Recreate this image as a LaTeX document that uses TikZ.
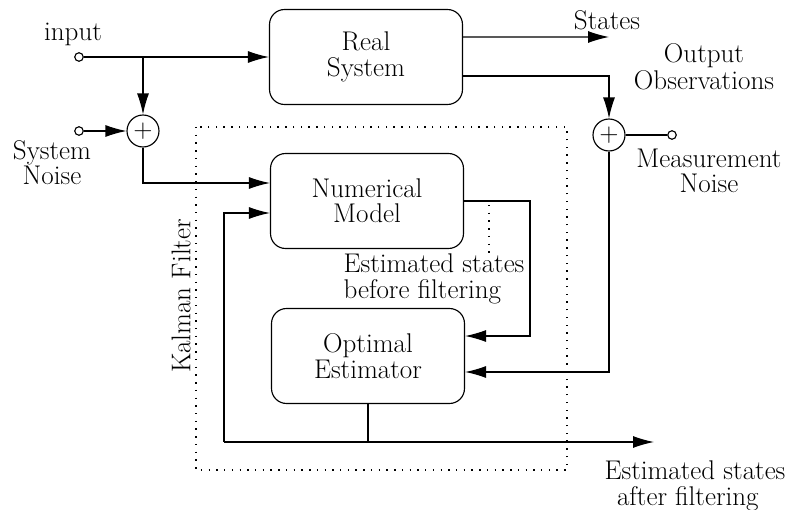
\documentclass[tikz,border=0pt]{standalone}
\usetikzlibrary{arrows.meta,positioning}

\begin{document}
\begin{tikzpicture}[x=0.02cm,y=-0.02cm,->,>={Latex[length=4.2mm,width=2.4mm]},line width=0.65pt,
  font=\fontsize{15.4}{14.4}\selectfont,
  block/.style={draw,rounded corners=3mm,minimum width=3.86cm,minimum height=1.9cm,align=center},
  sum node/.style={circle,draw,inner sep=0pt,minimum size=0.64cm},
  port node/.style={circle,draw,inner sep=0pt,minimum size=0.17cm},
  text node/.style={align=center}]

  \useasboundingbox (0,0) rectangle (795,510);

  % blocks
  \node[block] (real) at (366,57) {Real\\System};
  \node[block] (model) at (367,201) {Numerical\\Model};
  \node[block] (est) at (368,356) {Optimal\\Estimator};

  % summing points and ports
  \node[sum node] (sumA) at (143,131) {$+$};
  \node[sum node] (sumB) at (609,135) {$+$};
  \node[port node] (in) at (79,57) {};
  \node[port node] (sysn) at (79,131) {};
  \node[port node] (measn) at (672,135) {};

  \coordinate (split) at (143,57);
  \coordinate (statesEnd) at (609,37);
  \coordinate (fbL) at (224,442);
  \coordinate (outEnd) at (654,442);

  % labels
  \node[text node] (inLbl) at (73,34) {input};
  \node[text node] (sysLbl) at (52,163) {System\\Noise};
  \node[text node] (stLbl) at (607,20) {States};
  \node[text node] (obsLbl) at (704,67) {Output\\[1pt]Observations};
  \node[text node] (measLbl) at (709,171) {Measurement\\Noise};
  \node[align=left] (befLbl) at (434,279) {Estimated states\\before filtering};
  \node[align=left] (aftLbl) at (695,486) {Estimated states\\\hspace{2.5mm}after filtering};
  \node[rotate=90] (kfLbl) at (181,296) {Kalman Filter};

  % Kalman filter frame
  \draw[-,dash pattern=on 0.8pt off 3.6pt] (196,127) rectangle (567,470);
  \draw[-,dash pattern=on 0.8pt off 3.6pt] (489,205) -- (489,255);

  % connections
  \draw (in) -- (real.west);
  \draw (split) -- (sumA);
  \draw (sysn) -- (sumA);
  \draw (sumA) |- ([yshift=0.36cm]model.west);
  \draw ([yshift=0.4cm]real.east) -- (statesEnd);
  \draw ([yshift=-0.38cm]real.east) -| (sumB);
  \draw[-] (measn) -- (sumB);
  \draw (sumB) |- ([yshift=-0.32cm]est.east);
  \draw (model.east) -- ++(66,0) |- ([yshift=0.4cm]est.east);
  \draw[-] (est.south) -- (est.south |- fbL);
  \draw (fbL) -- (outEnd);
  \draw (fbL) |- ([yshift=-0.24cm]model.west);

\end{tikzpicture}
\end{document}
